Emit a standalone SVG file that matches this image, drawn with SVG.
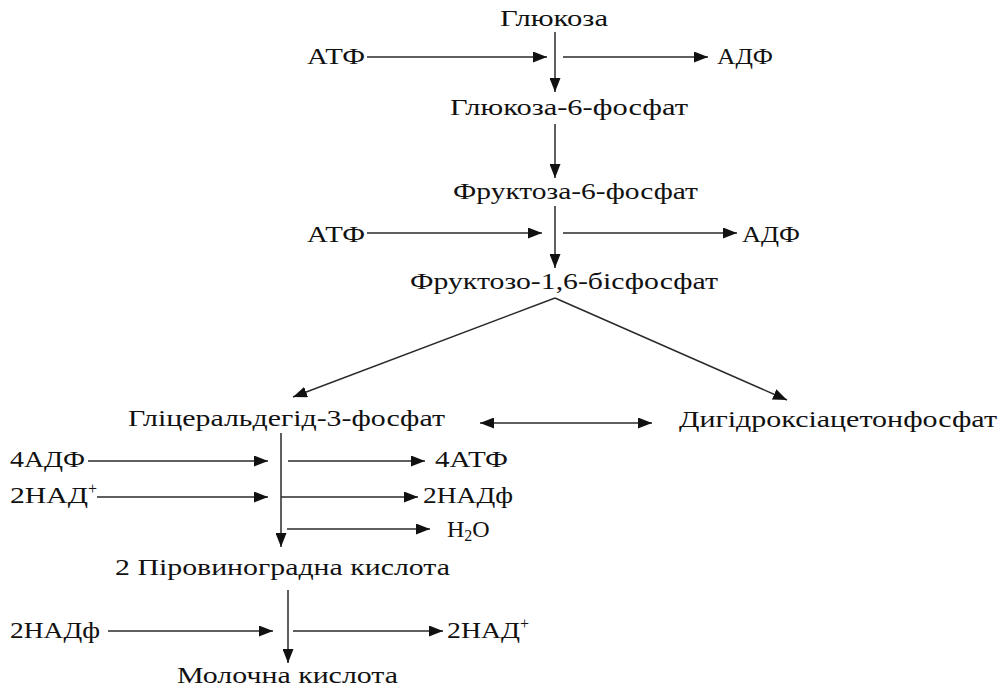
<svg xmlns="http://www.w3.org/2000/svg" width="1003" height="688" viewBox="0 0 1003 688">
<style>
text{font-family:'Liberation Serif','Times New Roman','DejaVu Serif',serif;font-size:24px;fill:#111}
.c line{stroke:#2a2a2a;stroke-width:1.5;fill:none}
.sub{font-size:16px}
</style>
<defs>
<marker id="ah" viewBox="0 0 14 11" refX="14" refY="5.5" markerWidth="14" markerHeight="11" markerUnits="userSpaceOnUse" orient="auto-start-reverse">
<path d="M0,0 L14,5.5 L0,11 Z" fill="#111"/>
</marker>
</defs>
<rect width="1003" height="688" fill="#fff"/>
<g class="c" id="connectors">
<line x1="367" y1="57" x2="547" y2="57" marker-end="url(#ah)"/>
<line x1="555" y1="32" x2="555" y2="92" marker-end="url(#ah)"/>
<line x1="563" y1="57" x2="708" y2="57" marker-end="url(#ah)"/>
<line x1="555" y1="124" x2="555" y2="178" marker-end="url(#ah)"/>
<line x1="367" y1="233" x2="542" y2="233" marker-end="url(#ah)"/>
<line x1="555" y1="206" x2="555" y2="268" marker-end="url(#ah)"/>
<line x1="563" y1="233" x2="737" y2="233" marker-end="url(#ah)"/>
<line x1="555" y1="298" x2="293" y2="397" marker-end="url(#ah)"/>
<line x1="555" y1="298" x2="787" y2="400" marker-end="url(#ah)"/>
<line x1="480" y1="423" x2="652" y2="423" marker-start="url(#ah)" marker-end="url(#ah)"/>
<line x1="88" y1="461" x2="268" y2="461" marker-end="url(#ah)"/>
<line x1="97" y1="497" x2="268" y2="497" marker-end="url(#ah)"/>
<line x1="281" y1="433" x2="281" y2="547" marker-end="url(#ah)"/>
<line x1="288" y1="461" x2="425" y2="461" marker-end="url(#ah)"/>
<line x1="281" y1="497" x2="418" y2="497" marker-end="url(#ah)"/>
<line x1="287" y1="529" x2="430" y2="529" marker-end="url(#ah)"/>
<line x1="108" y1="631" x2="273" y2="631" marker-end="url(#ah)"/>
<line x1="288" y1="590" x2="288" y2="663" marker-end="url(#ah)"/>
<line x1="293" y1="631" x2="443" y2="631" marker-end="url(#ah)"/>
</g>
<g id="glucose"><text x="500" y="26" textLength="108" lengthAdjust="spacingAndGlyphs">Глюкоза</text></g>
<g id="atp1"><text x="307" y="64" textLength="58" lengthAdjust="spacingAndGlyphs">АТФ</text></g>
<g id="adp1"><text x="717" y="64" textLength="56" lengthAdjust="spacingAndGlyphs">АДФ</text></g>
<g id="g6p"><text x="450" y="115" textLength="238" lengthAdjust="spacingAndGlyphs">Глюкоза-6-фосфат</text></g>
<g id="f6p"><text x="453" y="199" textLength="245" lengthAdjust="spacingAndGlyphs">Фруктоза-6-фосфат</text></g>
<g id="atp2"><text x="307" y="242" textLength="58" lengthAdjust="spacingAndGlyphs">АТФ</text></g>
<g id="adp2"><text x="742" y="242" textLength="58" lengthAdjust="spacingAndGlyphs">АДФ</text></g>
<g id="f16bp"><text x="410" y="289" textLength="308" lengthAdjust="spacingAndGlyphs">Фруктозо-1,6-бісфосфат</text></g>
<g id="gap"><text x="128" y="426" textLength="317" lengthAdjust="spacingAndGlyphs">Гліцеральдегід-3-фосфат</text></g>
<g id="dhap"><text x="679" y="427" textLength="318" lengthAdjust="spacingAndGlyphs">Дигідроксіацетонфосфат</text></g>
<g id="adp4"><text x="10" y="467" textLength="75" lengthAdjust="spacingAndGlyphs">4АДФ</text></g>
<g id="nad2"><text x="10" y="503" textLength="78" lengthAdjust="spacingAndGlyphs">2НАД</text><text class="sub" x="88" y="494">+</text></g>
<g id="atp4"><text x="435" y="467" textLength="73" lengthAdjust="spacingAndGlyphs">4АТФ</text></g>
<g id="nadh2"><text x="423" y="503" textLength="90" lengthAdjust="spacingAndGlyphs">2НАДф</text></g>
<g id="h2o"><text x="447" y="537">H<tspan class="sub" dy="4">2</tspan><tspan dy="-4">O</tspan></text></g>
<g id="pyruvate"><text x="115" y="575" textLength="335" lengthAdjust="spacingAndGlyphs">2 Піровиноградна кислота</text></g>
<g id="nadh2b"><text x="10" y="638" textLength="90" lengthAdjust="spacingAndGlyphs">2НАДф</text></g>
<g id="nad2b"><text x="447" y="638" textLength="73" lengthAdjust="spacingAndGlyphs">2НАД</text><text class="sub" x="520" y="629">+</text></g>
<g id="lactate"><text x="177" y="683" textLength="221" lengthAdjust="spacingAndGlyphs">Молочна кислота</text></g>
</svg>
